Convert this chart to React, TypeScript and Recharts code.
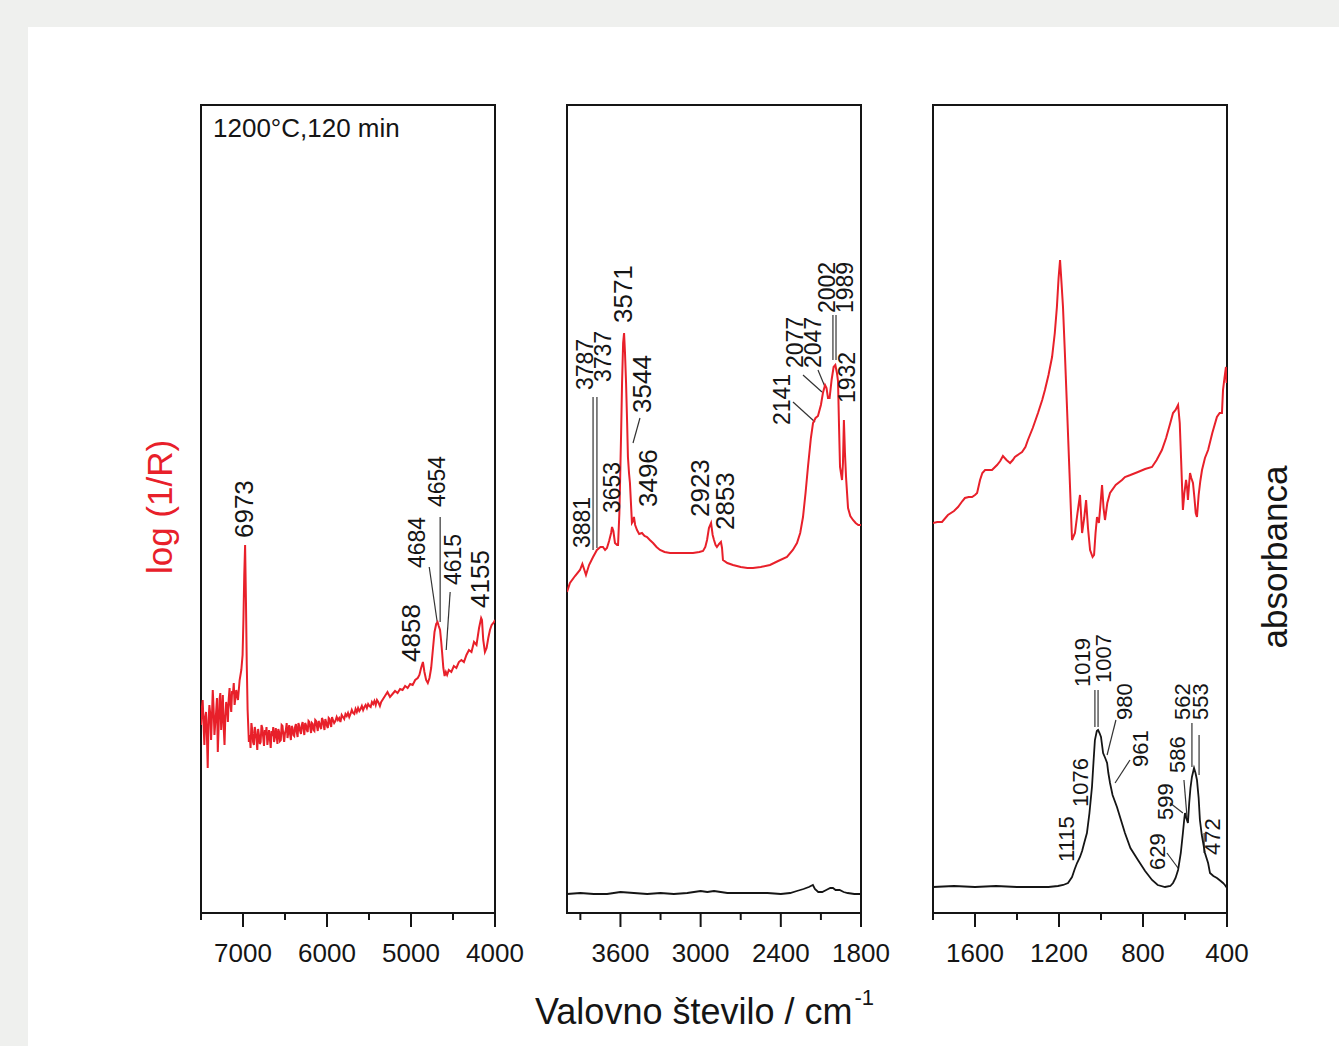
import React from "react";
import {
  LineChart,
  Line,
  XAxis,
  YAxis,
  ReferenceLine,
  ReferenceDot,
  ReferenceArea,
} from "recharts";

const RED = "#e8202a";
const INK = "#151515";
const FONT = '"Liberation Sans", Arial, sans-serif';

// spectra: [wavenumber cm-1, intensity a.u.]
const nirRed: [number, number][] = [
  [7500, 188], [7490, 205], [7480, 213], [7470, 190], [7460, 168], [7450, 196],
  [7440, 201], [7430, 178], [7420, 145], [7410, 192], [7400, 208], [7390, 199],
  [7380, 173], [7370, 196], [7360, 223], [7350, 205], [7340, 178], [7330, 190],
  [7320, 201], [7310, 215], [7300, 161], [7290, 186], [7280, 213], [7270, 220],
  [7260, 183], [7250, 200], [7240, 218], [7230, 186], [7220, 168], [7210, 197],
  [7200, 211], [7190, 205], [7180, 191], [7170, 214], [7160, 225], [7150, 209],
  [7140, 201], [7130, 222], [7120, 219], [7110, 230], [7100, 208], [7090, 215],
  [7080, 223], [7070, 218], [7060, 213], [7040, 233],
  [7020, 243], [7005, 258], [6995, 293], [6985, 338], [6975, 368], [6965, 313],
  [6955, 248], [6945, 203], [6930, 171], [6920, 178], [6910, 165], [6900, 190],
  [6890, 183], [6880, 171], [6870, 168], [6860, 186], [6850, 181], [6840, 174],
  [6830, 163], [6820, 184], [6810, 178], [6800, 169], [6790, 171], [6780, 188],
  [6770, 185], [6760, 176], [6750, 167], [6740, 183], [6730, 178], [6720, 186],
  [6710, 168], [6700, 175], [6690, 183], [6680, 174], [6670, 165], [6660, 182],
  [6650, 177], [6640, 186], [6630, 171], [6620, 176], [6610, 185], [6600, 178],
  [6590, 169], [6580, 184], [6570, 181], [6560, 172], [6550, 173], [6540, 188],
  [6530, 187], [6520, 178], [6510, 171], [6500, 180], [6490, 183], [6480, 190],
  [6470, 175], [6460, 181], [6450, 188], [6440, 179], [6430, 173], [6420, 187],
  [6410, 185], [6400, 178], [6390, 177], [6380, 186], [6370, 189], [6360, 181],
  [6350, 176], [6340, 190], [6330, 187], [6320, 182], [6310, 179], [6300, 188],
  [6290, 191], [6280, 184], [6270, 178], [6260, 190], [6250, 188], [6240, 183],
  [6230, 181], [6220, 192], [6210, 191], [6200, 186], [6190, 180], [6180, 190],
  [6170, 189], [6160, 183], [6150, 182], [6140, 193], [6130, 192], [6120, 187],
  [6110, 182], [6100, 192], [6090, 190], [6080, 186], [6070, 184], [6060, 195],
  [6050, 193], [6040, 188], [6030, 183], [6020, 194], [6010, 191], [6000, 187],
  [5990, 185], [5980, 195], [5970, 194], [5960, 189], [5950, 186], [5940, 196],
  [5930, 193], [5915, 190], [5900, 192], [5885, 196], [5870, 193], [5855, 195],
  [5840, 191], [5825, 198], [5810, 196], [5795, 194], [5780, 199], [5765, 197],
  [5750, 200], [5735, 196], [5720, 199], [5705, 203], [5690, 200], [5675, 199],
  [5660, 204], [5645, 201], [5630, 205], [5615, 202], [5600, 204], [5585, 207],
  [5570, 203], [5555, 206], [5540, 208], [5525, 205], [5510, 209], [5495, 207],
  [5480, 206], [5465, 211], [5450, 209], [5435, 212], [5420, 208], [5405, 213],
  [5390, 211], [5370, 207], [5355, 211],
  [5340, 213], [5310, 217], [5280, 221], [5250, 216], [5220, 219], [5190, 222],
  [5160, 220], [5130, 224], [5100, 223], [5070, 227], [5040, 225], [5010, 229],
  [4980, 228], [4950, 233], [4920, 235], [4900, 238], [4880, 245], [4858, 251],
  [4840, 241], [4820, 233], [4800, 230], [4780, 235], [4760, 245], [4740, 263],
  [4720, 281], [4700, 289], [4684, 291], [4670, 287], [4654, 283], [4640, 271],
  [4630, 261], [4615, 245], [4600, 237], [4585, 241], [4570, 238], [4550, 243],
  [4520, 241], [4490, 247], [4460, 245], [4430, 251], [4400, 253], [4370, 251],
  [4340, 258], [4310, 263], [4280, 261], [4250, 271], [4220, 268], [4190, 285],
  [4165, 295], [4155, 293], [4140, 273], [4120, 261], [4100, 265], [4080, 275],
  [4060, 283], [4040, 288], [4010, 291], [4000, 293],
];

const midRed: [number, number][] = [
  [4000, 321], [3978, 330], [3940, 337], [3903, 343], [3885, 349], [3870, 343],
  [3858, 338], [3835, 348], [3805, 356], [3776, 363], [3750, 366], [3731, 366],
  [3715, 363], [3701, 365], [3685, 372], [3670, 380], [3663, 386], [3653, 382],
  [3641, 370], [3625, 368], [3618, 368], [3608, 400], [3603, 430], [3595, 480],
  [3588, 530], [3580, 570], [3573, 580], [3566, 560], [3558, 530], [3550, 490],
  [3544, 456], [3536, 440], [3529, 430], [3514, 390], [3505, 392], [3499, 396],
  [3490, 388], [3476, 383], [3460, 379], [3439, 380], [3420, 377], [3401, 376],
  [3380, 373], [3356, 370], [3330, 366], [3304, 363], [3270, 361], [3229, 360],
  [3150, 360], [3057, 360], [3010, 361], [2982, 362], [2965, 366], [2952, 373],
  [2938, 385], [2922, 390], [2910, 378], [2900, 373], [2888, 368], [2878, 366],
  [2862, 369], [2848, 371], [2840, 365], [2833, 353], [2800, 350], [2758, 348],
  [2700, 346], [2650, 345], [2608, 345], [2550, 346], [2481, 348], [2420, 352],
  [2354, 356], [2310, 363], [2279, 370], [2255, 380], [2234, 396], [2215, 420],
  [2197, 446], [2175, 475], [2159, 490], [2140, 495], [2122, 497], [2100, 508],
  [2085, 520], [2069, 528], [2058, 525], [2047, 515], [2035, 515], [2020, 533],
  [2005, 546], [1992, 548], [1980, 540], [1972, 532], [1965, 490], [1957, 446],
  [1942, 433], [1935, 450], [1928, 493], [1920, 460], [1912, 436], [1897, 405],
  [1880, 397], [1860, 393], [1840, 390], [1820, 388], [1800, 388],
];

const midBlack: [number, number][] = [
  [4000, 19], [3900, 20], [3800, 19], [3700, 19], [3600, 21], [3500, 20],
  [3400, 19], [3300, 20], [3200, 19], [3100, 20], [3050, 21], [3000, 22],
  [2950, 21], [2900, 22], [2850, 21], [2800, 20], [2700, 20], [2600, 20],
  [2500, 20], [2400, 19], [2330, 20], [2280, 22], [2230, 24], [2190, 26],
  [2160, 28], [2145, 24], [2120, 21], [2090, 21], [2060, 23], [2030, 25],
  [2010, 25], [1990, 23], [1960, 23], [1930, 21], [1900, 20], [1850, 19],
  [1800, 19],
];

const farRed: [number, number][] = [
  [1800, 390], [1780, 391], [1757, 391], [1729, 398], [1700, 402], [1681, 406],
  [1660, 412], [1648, 415], [1630, 416], [1614, 416], [1600, 418], [1590, 420],
  [1576, 433], [1565, 440], [1552, 443], [1535, 443], [1519, 443], [1495, 448],
  [1480, 452], [1467, 457], [1450, 453], [1433, 450], [1420, 453], [1410, 456],
  [1390, 459], [1376, 461], [1360, 466], [1348, 473], [1325, 485], [1300, 500],
  [1280, 513], [1267, 523], [1250, 538], [1233, 556], [1220, 580], [1210, 606],
  [1202, 635], [1195, 653], [1188, 630], [1181, 606], [1172, 560], [1162, 506],
  [1150, 440], [1138, 373], [1124, 380], [1112, 400], [1100, 418], [1090, 380],
  [1080, 395], [1071, 413], [1062, 385], [1052, 363], [1040, 356], [1033, 358],
  [1026, 380], [1019, 396], [1010, 390], [1002, 410], [995, 428], [988, 405],
  [981, 393], [970, 410], [957, 420], [930, 428], [900, 433], [886, 436],
  [860, 438], [824, 441], [790, 444], [757, 446], [735, 453], [710, 463],
  [690, 475], [670, 490], [657, 500], [645, 503], [633, 508], [625, 490],
  [619, 456], [610, 403], [603, 420], [595, 433], [590, 425], [586, 413],
  [580, 430], [576, 440], [570, 435], [562, 430], [555, 415], [549, 400],
  [543, 396], [535, 418], [527, 432], [519, 443], [505, 455], [490, 463],
  [470, 480], [448, 496], [435, 500], [424, 500], [419, 523], [412, 535],
  [405, 546], [402, 530], [400, 540],
];

const farBlack: [number, number][] = [
  [1800, 26], [1700, 27], [1600, 26], [1500, 27], [1400, 26], [1300, 26],
  [1250, 26], [1205, 27], [1180, 28], [1157, 30], [1138, 36], [1125, 44],
  [1114, 50], [1100, 56], [1090, 62], [1080, 70], [1067, 80], [1055, 100],
  [1043, 126], [1036, 150], [1029, 173], [1020, 182], [1014, 183], [1007, 180],
  [1000, 176], [995, 168], [990, 160], [980, 155], [971, 150], [965, 140],
  [957, 130], [945, 118], [924, 106], [905, 93], [886, 80], [860, 65],
  [824, 53], [790, 42], [757, 33], [730, 28], [695, 26], [670, 27],
  [657, 30], [645, 35], [633, 43], [620, 60], [610, 80], [603, 95],
  [600, 100], [594, 95], [586, 90], [580, 110], [574, 125], [567, 136],
  [557, 145], [550, 140], [543, 133], [535, 115], [529, 93], [520, 78],
  [505, 60], [490, 50], [481, 40], [465, 37], [448, 35], [430, 32],
  [419, 30], [410, 28], [400, 25],
];

// peak labels: [text, wavenumber, intensity at label foot]
const nirPeaks: [string, number, number][] = [
  ["6973", 6990, 375], ["4858", 4997, 251], ["4684", 4926, 345],
  ["4654", 4688, 406], ["4615", 4498, 328], ["4155", 4178, 305],
];
const midPeaks: [string, number, number][] = [
  ["3881", 3888, 365], ["3787", 3865, 523], ["3737", 3731, 531],
  ["3653", 3663, 400], ["3571", 3581, 590], ["3544", 3439, 500],
  ["3496", 3394, 406], ["2923", 3005, 396], ["2853", 2818, 383],
  ["2141", 2391, 488], ["2077", 2294, 545], ["2047", 2159, 545],
  ["2002", 2054, 600], ["1989", 1920, 600], ["1932", 1905, 510],
];
const farPeaks: [string, number, number][] = [
  ["1115", 1162, 51], ["1076", 1100, 106], ["1019", 1086, 226],
  ["1007", 990, 230], ["980", 886, 193], ["961", 814, 146],
  ["629", 733, 43], ["599", 695, 93], ["586", 638, 140],
  ["562", 614, 193], ["553", 524, 193], ["472", 471, 58],
];

// leader lines: [wn1, y1, wn2, y2]
const nirLeaders: number[][] = [
  [4783, 346, 4688, 291], [4653, 396, 4653, 291], [4534, 321, 4581, 263],
];
const midLeaders: number[][] = [
  [3805, 516, 3805, 363], [3776, 516, 3776, 365], [3454, 495, 3506, 470],
  [2309, 511, 2144, 491], [2234, 538, 2092, 521], [2122, 543, 2069, 526],
  [2010, 598, 2010, 553], [1987, 598, 1987, 553],
];
const farLeaders: number[][] = [
  [1029, 223, 1029, 186], [1014, 223, 1014, 186], [929, 193, 971, 158],
  [862, 153, 933, 130], [686, 60, 633, 45], [671, 110, 610, 100],
  [605, 133, 590, 95], [567, 190, 567, 146], [533, 178, 533, 138],
  [509, 80, 509, 60],
];

const nirMajor = [7000, 6000, 5000, 4000];
const nirMinor = [7500, 6500, 5500, 4500];
const midMajor = [3600, 3000, 2400, 1800];
const midMinor = [3900, 3300, 2700, 2100];
const farMajor = [1600, 1200, 800, 400];
const farMinor = [1800, 1400, 1000, 600];

const BIG_LABELS = new Set(["6973", "4858", "4155", "3571", "3544", "3496", "2923", "2853"]);

const Y_MAX = 808;

const toRows = (pts: [number, number][]) => pts.map(([wn, v]) => ({ wn, v }));

function Panel({
  left,
  domain,
  major,
  minor,
  red,
  black,
  peaks,
  leaders,
  labelSize,
}: {
  left: number;
  domain: [number, number];
  major: number[];
  minor: number[];
  red: [number, number][];
  black?: [number, number][];
  peaks: [string, number, number][];
  leaders: number[][];
  labelSize: number;
}) {
  const renderTick = (p: any) => {
    const isMajor = major.includes(p.payload.value);
    return (
      <g>
        <line x1={p.x} y1={p.y} x2={p.x} y2={p.y + (isMajor ? 14 : 7)} stroke={INK} strokeWidth={2} />
        {isMajor && (
          <text x={p.x} y={p.y + 49} textAnchor="middle" fontSize={26} fontFamily={FONT} fill={INK}>
            {p.payload.value}
          </text>
        )}
      </g>
    );
  };
  return (
    <div style={{ position: "absolute", left: left - 40, top: 60 }}>
      <LineChart width={374} height={923} margin={{ top: 45, right: 40, bottom: 0, left: 40 }}>
        <XAxis
          xAxisId="b"
          type="number"
          dataKey="wn"
          domain={domain}
          reversed
          allowDataOverflow
          ticks={[...major, ...minor].sort((a, b) => a - b)}
          interval={0}
          tickSize={0}
          tickMargin={0}
          tickLine={false}
          tick={renderTick}
          axisLine={{ stroke: INK, strokeWidth: 2 }}
          height={70}
        />
        <YAxis yAxisId="l" type="number" domain={[0, Y_MAX]} allowDataOverflow hide />
        <ReferenceArea
          xAxisId="b"
          yAxisId="l"
          x1={domain[0]}
          x2={domain[1]}
          y1={0}
          y2={Y_MAX}
          fill="none"
          fillOpacity={0}
          stroke={INK}
          strokeWidth={2}
          ifOverflow="visible"
        />
        {leaders.map(([x1, y1, x2, y2], i) => (
          <ReferenceLine
            key={"ld" + i}
            xAxisId="b"
            yAxisId="l"
            segment={[{ x: x1, y: y1 }, { x: x2, y: y2 }]}
            stroke="#333"
            strokeWidth={1.2}
            ifOverflow="visible"
          />
        ))}
        <Line xAxisId="b" yAxisId="l" data={toRows(red)} dataKey="v" type="linear" stroke={RED} strokeWidth={2} dot={false} isAnimationActive={false} />
        {black && (
          <Line xAxisId="b" yAxisId="l" data={toRows(black)} dataKey="v" type="linear" stroke={INK} strokeWidth={1.8} dot={false} isAnimationActive={false} />
        )}
        {peaks.map(([txt, wn, v]) => (
          <ReferenceDot
            key={txt}
            xAxisId="b"
            yAxisId="l"
            x={wn}
            y={v}
            r={0}
            ifOverflow="visible"
            shape={(p: any) => (
              <text
                x={p.cx}
                y={p.cy}
                transform={`rotate(-90 ${p.cx} ${p.cy})`}
                textAnchor="start"
                dominantBaseline="central"
                fontSize={BIG_LABELS.has(txt) ? 26 : labelSize}
                fontFamily={FONT}
                fill={INK}
              >
                {txt}
              </text>
            )}
          />
        ))}
      </LineChart>
    </div>
  );
}

export default function App() {
  return (
    <div style={{ position: "absolute", left: 0, top: 0, width: 1339, height: 1046, background: "#eff0ee", overflow: "hidden", fontFamily: FONT }}>
      <div style={{ position: "absolute", left: 28, top: 27, right: 0, bottom: 0, background: "#fff" }} />
      <Panel left={201} domain={[4000, 7500]} major={nirMajor} minor={nirMinor} red={nirRed} peaks={nirPeaks} leaders={nirLeaders} labelSize={23} />
      <Panel left={567} domain={[1800, 4000]} major={midMajor} minor={midMinor} red={midRed} black={midBlack} peaks={midPeaks} leaders={midLeaders} labelSize={23} />
      <Panel left={933} domain={[400, 1800]} major={farMajor} minor={farMinor} red={farRed} black={farBlack} peaks={farPeaks} leaders={farLeaders} labelSize={22} />
      <div style={{ position: "absolute", left: 213, top: 115, fontSize: 26, lineHeight: "26px", color: INK, whiteSpace: "nowrap" }}>
        1200°C,120 min
      </div>
      <div style={{ position: "absolute", left: 160, top: 507, transform: "translate(-50%, -50%) rotate(-90deg)", fontSize: 35, color: RED, whiteSpace: "nowrap" }}>
        log (1/R)
      </div>
      <div style={{ position: "absolute", left: 1275, top: 557, transform: "translate(-50%, -50%) rotate(-90deg)", fontSize: 35, color: INK, whiteSpace: "nowrap" }}>
        absorbanca
      </div>
      <div style={{ position: "absolute", left: 535, top: 994, fontSize: 36, lineHeight: "36px", color: INK, whiteSpace: "nowrap" }}>
        Valovno število / cm
        <span style={{ fontSize: 22, position: "relative", top: -19, left: 2 }}>-1</span>
      </div>
    </div>
  );
}
